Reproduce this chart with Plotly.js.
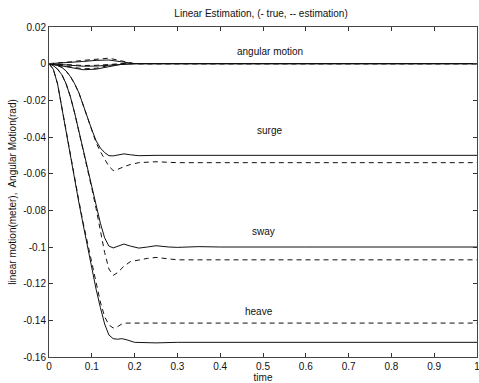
<!DOCTYPE html>
<html>
<head>
<meta charset="utf-8">
<script src="https://cdn.plot.ly/plotly-3.0.1.min.js"></script>
<style>html,body{margin:0;padding:0;background:#fff;}#chart{width:479px;height:383px;}</style>
</head>
<body>
<div id="chart"></div>
<script>
// ---- data ----
const heaveT = [0, 0.01, 0.02, 0.03, 0.04, 0.05, 0.06, 0.07, 0.08, 0.09, 0.1, 0.11, 0.12, 0.13, 0.14, 0.15, 0.16, 0.17, 0.18, 0.2, 0.25, 0.3, 0.5, 0.7, 1];
const heaveTrue = [0, -0.003, -0.011, -0.024, -0.038, -0.052, -0.064, -0.076, -0.088, -0.1, -0.112, -0.123, -0.133, -0.142, -0.148, -0.150, -0.1503, -0.150, -0.1505, -0.152, -0.1523, -0.152, -0.152, -0.152, -0.152];
const heaveEst = [0, -0.003, -0.011, -0.024, -0.038, -0.051, -0.063, -0.075, -0.087, -0.098, -0.109, -0.12, -0.13, -0.138, -0.1425, -0.1442, -0.1435, -0.142, -0.1415, -0.1415, -0.1415, -0.1415, -0.1415, -0.1415, -0.1415];

const swayT = [0, 0.01, 0.02, 0.03, 0.04, 0.05, 0.06, 0.07, 0.08, 0.09, 0.1, 0.11, 0.12, 0.13, 0.14, 0.15, 0.16, 0.175, 0.19, 0.21, 0.23, 0.25, 0.28, 0.3, 0.35, 0.4, 0.6, 1];
const swayTrue = [0, -0.001, -0.003, -0.006, -0.011, -0.018, -0.027, -0.037, -0.047, -0.057, -0.067, -0.077, -0.087, -0.095, -0.0995, -0.1005, -0.0995, -0.0984, -0.0995, -0.1006, -0.1, -0.0993, -0.1, -0.1002, -0.0998, -0.1, -0.1, -0.1];
const swayEst = [0, -0.001, -0.003, -0.006, -0.011, -0.018, -0.027, -0.037, -0.047, -0.057, -0.068, -0.079, -0.091, -0.103, -0.112, -0.1155, -0.114, -0.1105, -0.108, -0.107, -0.1062, -0.1057, -0.1065, -0.107, -0.107, -0.107, -0.107, -0.107];

const surgeT = [0, 0.01, 0.02, 0.03, 0.04, 0.05, 0.06, 0.07, 0.08, 0.09, 0.1, 0.11, 0.12, 0.13, 0.14, 0.15, 0.16, 0.175, 0.19, 0.21, 0.25, 0.3, 0.5, 1];
const surgeTrue = [0, -0.0003, -0.001, -0.002, -0.004, -0.007, -0.011, -0.016, -0.023, -0.03, -0.036, -0.042, -0.046, -0.0485, -0.0502, -0.0503, -0.0497, -0.0492, -0.0497, -0.0502, -0.05, -0.05, -0.05, -0.05];
const surgeEst = [0, -0.0003, -0.001, -0.002, -0.004, -0.007, -0.011, -0.016, -0.023, -0.03, -0.037, -0.043, -0.048, -0.052, -0.056, -0.0583, -0.0577, -0.0562, -0.055, -0.054, -0.0535, -0.054, -0.054, -0.054];

const angT = [0, 0.02, 0.05, 0.08, 0.11, 0.14, 0.17, 0.2, 0.3, 1];
const ang1True = [0, -0.0008, -0.002, -0.0033, -0.003, -0.0015, -0.0003, 0, 0, 0];
const ang1Est = [0, -0.0006, -0.0015, -0.0028, -0.0025, -0.001, 0, 0, 0, 0];
const ang2True = [0, 0.0002, 0.0005, 0.0012, 0.0018, 0.002, 0.001, 0, 0, 0];
const ang2Est = [0, 0.0003, 0.001, 0.0018, 0.0024, 0.003, 0.0015, 0, 0, 0];
const ang3True = [0, -0.0004, -0.001, -0.0014, -0.0013, -0.0008, -0.0002, 0, 0, 0];
const ang3Est = [0, -0.0003, -0.0007, -0.001, -0.0009, -0.0004, 0, 0, 0, 0];

const labelText = ['angular motion', 'surge', 'sway', 'heave'];
const labelX = [0.516, 0.516, 0.5, 0.49];
const labelY = [0.0064, -0.0367, -0.0918, -0.1354];

const yTicks = [0.02, 0, -0.02, -0.04, -0.06, -0.08, -0.1, -0.12, -0.14, -0.16];
const yTickText = ['0.02', '0', '-0.02', '-0.04', '-0.06', '-0.08', '-0.1', '-0.12', '-0.14', '-0.16'];
const xTicks = [0, 0.1, 0.2, 0.3, 0.4, 0.5, 0.6, 0.7, 0.8, 0.9, 1];
const xTickText = ['0', '0.1', '0.2', '0.3', '0.4', '0.5', '0.6', '0.7', '0.8', '0.9', '1'];

// ---- traces ----
const solid = {color: '#111', width: 1};
const dashed = {color: '#111', width: 1, dash: '5px,4px'};
function tr(x, y, line) { return {x: x, y: y, type: 'scatter', mode: 'lines', line: line, hoverinfo: 'skip', showlegend: false}; }

const traces = [
  tr(angT, ang1True, solid), tr(angT, ang1Est, dashed),
  tr(angT, ang2True, solid), tr(angT, ang2Est, dashed),
  tr(angT, ang3True, solid), tr(angT, ang3Est, dashed),
  tr(surgeT, surgeTrue, solid), tr(surgeT, surgeEst, dashed),
  tr(swayT, swayTrue, solid), tr(swayT, swayEst, dashed),
  tr(heaveT, heaveTrue, solid), tr(heaveT, heaveEst, dashed)
];

const font = {family: 'Liberation Sans, Arial, sans-serif', size: 10, color: '#111'};

const annotations = labelText.map((t, i) => ({
  x: labelX[i], y: labelY[i], xref: 'x', yref: 'y', text: t, showarrow: false,
  font: {family: font.family, size: 10, color: '#111'}
}));

const layout = {
  width: 479, height: 383,
  margin: {l: 49, r: 2, t: 27, b: 26},
  paper_bgcolor: '#fff', plot_bgcolor: '#fff',
  font: font,
  title: {text: 'Linear Estimation, (- true, -- estimation)', x: 0.545, xanchor: 'center', y: 0.965, yanchor: 'middle', font: {family: font.family, size: 10, color: '#111'}},
  xaxis: {
    range: [0, 1], tickvals: xTicks, ticktext: xTickText, ticklabeloverflow: 'allow',
    ticks: 'inside', ticklen: 4, tickcolor: '#333', showgrid: false, zeroline: false,
    showline: true, linecolor: '#444', linewidth: 1, mirror: 'ticks',
    title: {text: 'time', standoff: 2, font: {family: font.family, size: 10, color: '#111'}},
    tickfont: {family: font.family, size: 10, color: '#111'}
  },
  yaxis: {
    range: [-0.16, 0.02], tickvals: yTicks, ticktext: yTickText, ticklabeloverflow: 'allow',
    ticks: 'inside', ticklen: 4, tickcolor: '#333', showgrid: false, zeroline: false,
    showline: true, linecolor: '#444', linewidth: 1, mirror: 'ticks',
    title: {text: 'linear motion(meter),  Angular Motion(rad)', standoff: 4, font: {family: font.family, size: 10, color: '#111'}},
    tickfont: {family: font.family, size: 10, color: '#111'}
  },
  annotations: annotations
};

Plotly.newPlot('chart', traces, layout, {displayModeBar: false, staticPlot: true});
</script>
</body>
</html>
